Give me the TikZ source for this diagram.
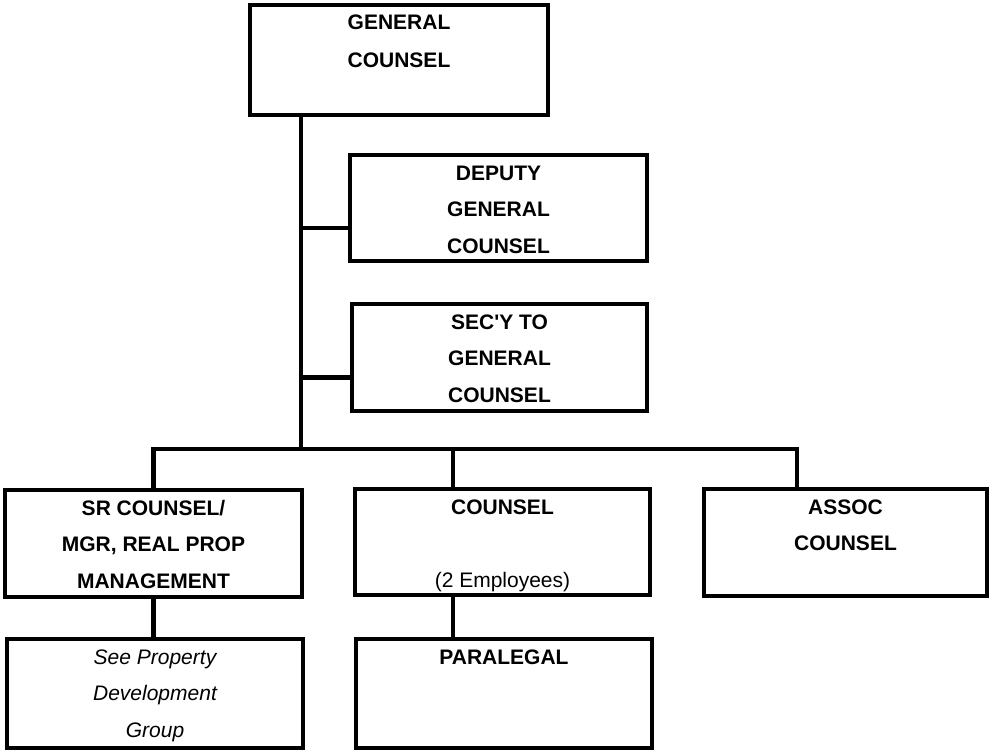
\documentclass[tikz,border=0pt]{standalone}
\usepackage{fontspec}
\setmainfont{Liberation Sans}
\usepackage{tikz}

% text of a box, lines start from the top edge
\newcommand{\toplines}[2]{\parbox[c][#1][t]{270pt}{\centering\fontsize{21}{36.5}\selectfont\rule{0pt}{25pt}#2}}

\begin{document}
\begin{tikzpicture}[x=1pt, y=-1pt, line width=4.5pt, % 1 unit = 1 pixel, y goes down
    box/.style={draw, rectangle, inner sep=0pt, minimum width=#1}, box/.default=296pt]
    \useasboundingbox (0,0) rectangle (991,752); % page size

    \node[box=298pt] (gc) at (399,60) {\toplines{110pt}{\bfseries GENERAL\\[1.5pt]COUNSEL}};
    \node[box=297pt] (deputy) at (498.5,208) {\toplines{106pt}{\bfseries DEPUTY\\GENERAL\\COUNSEL}};
    \node[box=295pt] (secy) at (499.5,357.5) {\toplines{107pt}{\bfseries SEC\textquotesingle Y TO\\GENERAL\\COUNSEL}};

    \node[box=297pt] (sr) at (153.5,543.5) {\toplines{107pt}{\bfseries SR COUNSEL/\\MGR, REAL PROP\\MANAGEMENT}};
    \node[box=295pt] (counsel) at (502.5,542) {\toplines{106pt}{\bfseries COUNSEL\\[36.5pt]\mdseries (2 Employees)}};
    \node[box=283pt] (assoc) at (845.5,542.5) {\toplines{107pt}{\bfseries ASSOC\\COUNSEL}};
    \node[box] (seeprop) at (155,693.5) {\toplines{109pt}{\itshape See Property\\Development\\Group}};
    \node[box] (paralegal) at (504,693.5) {\toplines{109pt}{\bfseries PARALEGAL}};

    \coordinate (bus) at (301,449); % foot of the trunk
    \coordinate (cdrop) at (453,449); % drop to COUNSEL
    \coordinate (adrop) at (797,449); % drop to ASSOC

    \draw (gc.south -| bus) -- (bus); % trunk
    \draw ([yshift=-20pt]deputy.west) -- ([yshift=-20pt]deputy.west -| bus);
    \draw ([yshift=-20pt]secy.west) -- ([yshift=-20pt]secy.west -| bus);
    \draw (sr.north) |- (adrop) -- (adrop |- assoc.north); % bus line
    \draw (cdrop) -- (cdrop |- counsel.north);
    \draw (sr.south) -- (sr.south |- seeprop.north);
    \draw (cdrop |- counsel.south) -- (cdrop |- paralegal.north);
\end{tikzpicture}
\end{document}
